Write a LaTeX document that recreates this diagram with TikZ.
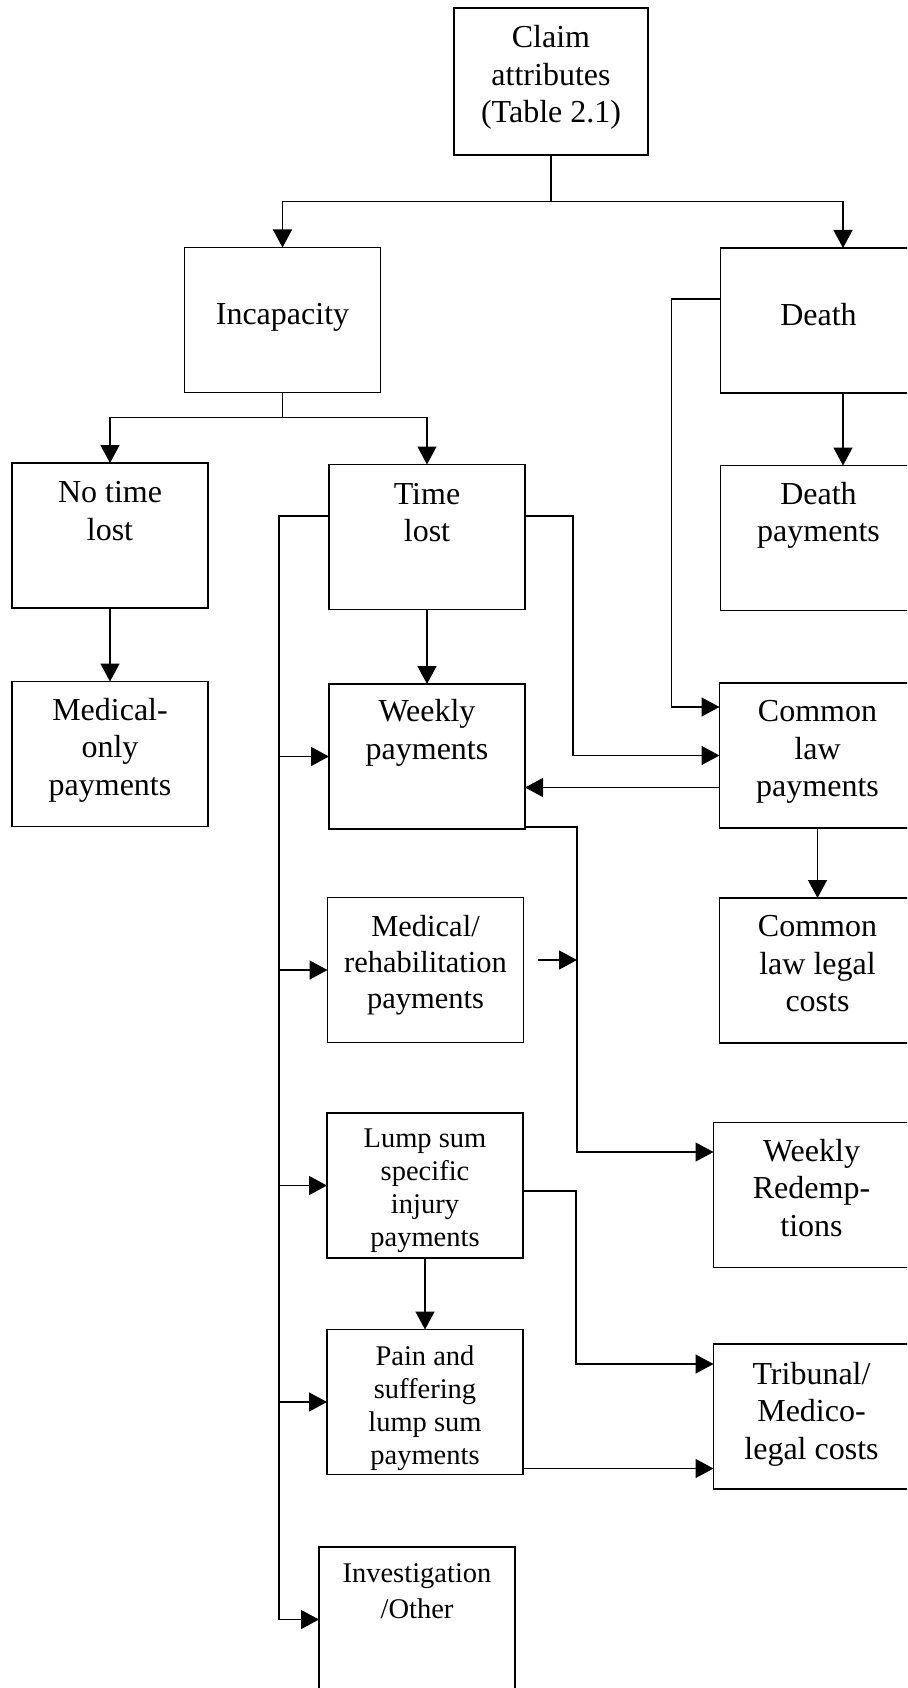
\documentclass[tikz,border=0pt]{standalone}
\usepackage{fontspec}
\setmainfont{Liberation Serif}
\usetikzlibrary{arrows.meta}
\tikzset{
  arr/.style={-{Triangle[length=18pt,width=19pt]}},
}

\begin{document}
\begin{tikzpicture}
  [
    x=1pt, y=-1pt,
    line width=1.4pt,
    box/.style =
      {draw, line width=1.7pt, minimum width=196pt, minimum height=145pt, inner sep=0pt, outer sep=0pt},
    lbl/.style =
      {anchor=north, align=center, inner sep=0pt, font=\fontsize{32}{37.5}\selectfont},
    lblsmall/.style = {lbl, font=\fontsize{28.5}{33}\selectfont}
  ]
  \useasboundingbox (0,0) rectangle (907,1688);
  \clip (0,0) rectangle (907,1688);

  \node [box, minimum width=194pt, minimum height=147pt,
    label={[lbl, yshift=-17pt]north:Claim\\attributes\\(Table 2.1)}] (claim) at (551,81.5) {};
  \node [box, label={[lbl, yshift=-55pt]north:Incapacity}] (incap) at (282.5,320) {};
  \node [box, label={[lbl, yshift=-55pt]north:Death}] (death) at (818.5,320.5) {};
  \node [box, label={[lbl, yshift=-18pt]north:No time\\lost}] (notime) at (110,535.5) {};
  \node [box, label={[lbl, yshift=-18pt]north:Time\\lost}] (time) at (427,537) {};
  \node [box, label={[lbl, yshift=-16pt]north:Death\\payments}] (deathpay) at (818.5,538) {};
  \node [box, label={[lbl, yshift=-16pt]north:Medical-\\only\\payments}] (medonly) at (110,754) {};
  \node [box, label={[lbl, yshift=-15pt]north:Weekly\\payments}] (weekly) at (427,756.5) {};
  \node [box, label={[lbl, yshift=-17pt]north:Common\\law\\payments}] (common) at (817.5,755.5) {};
  \node [box, label={[lbl, yshift=-17pt, font=\fontsize{30.5}{36}\selectfont]north:Medical/\\rehabilitation\\payments}] (medrehab) at (425.5,970) {};
  \node [box, label={[lbl, yshift=-17pt]north:Common\\law legal\\costs}] (clegal) at (817.5,970.5) {};
  \node [box, label={[lbl, yshift=-16pt]north:Weekly\\Redemp-\\tions}] (redemp) at (811.5,1195) {};
  \node [box, label={[lblsmall, yshift=-15pt]north:Lump sum\\specific\\injury\\payments}] (lump) at (425,1185.5) {};
  \node [box, label={[lblsmall, yshift=-16pt]north:Pain and\\suffering\\lump sum\\payments}] (pain) at (425,1402) {};
  \node [box, label={[lbl, yshift=-17.5pt]north:Tribunal/\\Medico-\\legal costs}] (tribunal) at (811.5,1416.5) {};
  \node [box, label={[lblsmall, yshift=-16pt, font=\fontsize{28.5}{35.5}\selectfont]north:Investigation\\/Other}] (invest) at (417,1619.5) {};

  \draw[arr] (claim.south) -- ++(0,46.5) -| (incap.north);
  \draw[arr] (claim.south) -- ++(0,46.5) -| ([xshift=24.5pt]death.north);
  \draw[arr] (incap.south) -- ++(0,25) -| (notime.north);
  \draw[arr] (incap.south) -- ++(0,25) -| (time.north);
  \draw[arr] ([xshift=24.5pt]death.south) -- ([xshift=24.5pt]deathpay.north);

  \draw[arr] (notime.south) -- (medonly.north);
  \draw[arr] (time.south) -- (weekly.north);
  \draw[arr] (common.south) -- (clegal.north);
  \draw[arr] (lump.south) -- (pain.north);

  \draw[arr] ([yshift=21.5pt]death.west) -- ++(-49,0) |- ([yshift=48.5pt]common.west);
  \draw[arr] ([yshift=21pt]time.east) -- ++(48,0) |- (common.west);
  \draw[arr] ([yshift=-32pt]common.west) -- ([yshift=-32pt]common.west -| weekly.east);

  \draw ([yshift=21pt]time.west) -- ++(-50,0) coordinate (tl) -- (tl |- invest.west);
  \foreach \n in {weekly,medrehab,lump,pain,invest}
    \draw[arr] (tl |- \n.west) -- (\n.west);

  \draw[arr] ([yshift=2pt]weekly.south east) -- ++(52,0) coordinate (wr) |- ([yshift=43pt]redemp.west);
  \draw[arr] ([xshift=14pt,yshift=10pt]medrehab.east) -- ([yshift=10pt]wr |- medrehab.east);
  \draw[arr] ([yshift=-5.5pt]lump.east) -- ++(53,0) |- ([yshift=52.5pt]tribunal.west);
  \draw[arr] ([yshift=6pt]pain.south east) -- ([yshift=6pt]pain.south east -| tribunal.west);

\end{tikzpicture}
\end{document}
